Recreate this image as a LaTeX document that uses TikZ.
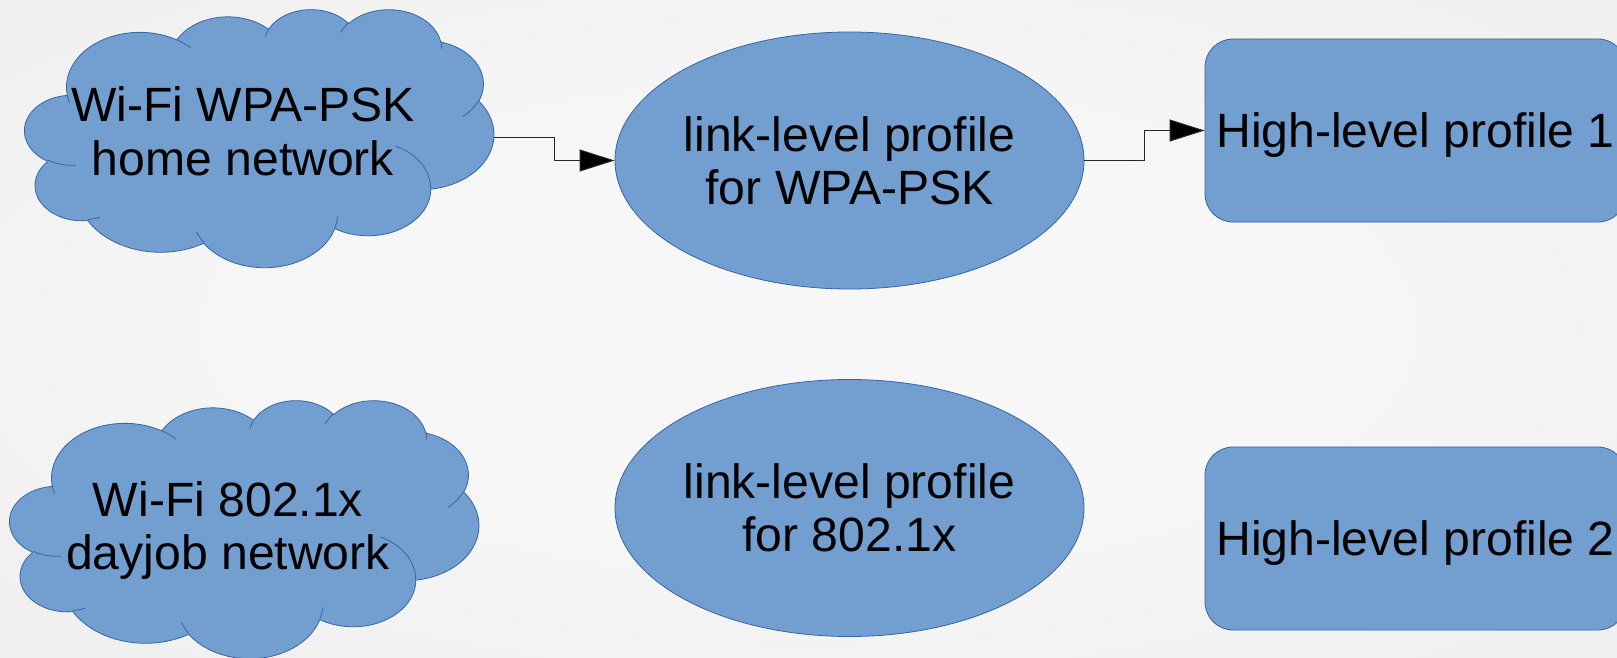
\documentclass[tikz,border=0pt]{standalone}
\usepackage{fontspec}
\setmainfont{Liberation Sans}
\usetikzlibrary{shapes.geometric,arrows.meta,calc}

\definecolor{shapefill}{HTML}{729FCF}
\definecolor{shapeline}{HTML}{3465A4}
\definecolor{bginner}{HTML}{F7F7F7}
\definecolor{bgouter}{HTML}{E9E9E9}
\pgfdeclareradialshading{slideglow}{\pgfpoint{0bp}{0bp}}{color(0bp)=(bginner); color(15bp)=(bginner); color(50bp)=(bgouter)}

% Elliptic arc given by its "visual" start angle and sweep (as in
% DrawingML): convert both to parametric angles before drawing.
\newcommand\cloudcalc[4]{%
  \pgfmathsetmacro\cloudtmpA{atan2((#1)*sin(#3),(#2)*cos(#3))}%
  \pgfmathsetmacro\cloudtmpB{atan2((#1)*sin((#3)+(#4)),(#2)*cos((#3)+(#4)))}%
  \pgfmathsetmacro\cloudtmpD{mod(\cloudtmpB-\cloudtmpA+720,360)}%
  \global\let\cloudA\cloudtmpA
  \global\let\cloudD\cloudtmpD}
\newcommand\cloudarc[4]{\pgfextra{\cloudcalc{#1}{#2}{#3}{#4}} arc[start angle=\cloudA, delta angle=\cloudD, x radius=#1, y radius=#2]}

% Cloud outline in a 432 x 432 frame, stretched to #2 x #3 at corner #1
\newcommand\drawcloud[3]{%
  \pgfmathsetmacro\cloudsx{#2/432}%
  \pgfmathsetmacro\cloudsy{#3/432}%
  \begin{scope}[shift={#1}, x=\cloudsx bp, y=-\cloudsy bp]
    \filldraw[fill=shapefill, draw=shapeline, line width=0.8bp, line join=round]
      (39.00,143.70)
      \cloudarc{67.53}{91.90}{-190.48748}{123.78053}
      \cloudarc{53.33}{72.67}{-144.10238}{89.94523}
      \cloudarc{43.65}{59.45}{-145.80792}{99.72302}
      \cloudarc{48.57}{65.95}{-130.98607}{117.24173}
      \cloudarc{53.33}{72.73}{-78.70888}{109.02692}
      \cloudarc{67.75}{92.20}{-46.26725}{130.26900}
      \cloudarc{57.85}{78.67}{0.62502}{114.03333}
      \cloudarc{67.52}{92.15}{22.45160}{115.17255}
      \cloudarc{77.20}{105.43}{66.24263}{75.71102}
      \cloudarc{43.60}{59.18}{-274.94208}{146.73557}
      \cloudarc{43.45}{59.45}{-246.82850}{152.51885}
      -- cycle;
    \draw[shapeline, line width=0.8bp]
      (46.93,261.77) \cloudarc{43.45}{59.45}{86.74200}{26.42950}
      (69.28,348.99) \cloudarc{43.60}{59.18}{73.61047}{11.44747}
      (164.78,390.90) \cloudarc{67.52}{92.15}{137.62415}{14.08110}
      (288.27,347.51) \cloudarc{67.52}{92.15}{6.45327}{15.99835}
      (341.29,229.54) \cloudarc{57.85}{78.67}{-70.29235}{70.91737}
      (417.98,153.54) \cloudarc{53.33}{72.73}{30.31803}{27.75150}
      (383.24,54.26) \cloudarc{48.57}{65.95}{-13.74433}{14.85890}
      (290.78,39.52) \cloudarc{48.57}{65.95}{-149.18145}{18.19537}
      (221.41,47.20) \cloudarc{43.65}{59.45}{-163.49427}{17.68635}
      (140.00,51.92) \cloudarc{67.53}{91.90}{-66.70695}{12.31935}
      (41.27,157.89) \cloudarc{67.53}{91.90}{157.65435}{11.85817};
  \end{scope}}

\begin{document}
\begin{tikzpicture}[x=1bp, y=-1bp,
  bigtext/.style={font=\fontsize{48.3}{53.5}\selectfont, align=center, inner sep=0pt},
  cloudframe/.style={rectangle, minimum width=469bp, minimum height=258bp, inner sep=0pt},
  profile/.style={ellipse, draw=shapeline, fill=shapefill, line width=0.8bp,
    minimum width=469bp, minimum height=257bp, bigtext},
  highlevel/.style={rectangle, rounded corners=28bp, draw=shapeline, fill=shapefill,
    line width=0.8bp, minimum width=421bp, minimum height=183bp, bigtext, text depth=0pt},
  link/.style={line width=1bp, black!85, -{Triangle[length=35bp, width=22bp, fill=black]}}]

  \useasboundingbox (0,0) rectangle (1617,658);
  \shade[shading=slideglow] (0,0) rectangle (1617,658);

  % networks
  \node[cloudframe] (home) at (259.5,138) {};
  \node[cloudframe] (dayjob) at (244.5,529) {};
  \drawcloud{(home.north west)}{469}{258}
  \drawcloud{(dayjob.north west)}{469}{258}
  \node[bigtext] (hometext) at (243,131.2) {Wi-Fi WPA-PSK\\home network};
  \node[bigtext] (jobtext) at (228,530.4) {Wi-Fi 802.1x\\dayjob network};

  % link-level profiles
  \node[profile] (pskprofile) at (849.5,160.5) {link-level profile\\for WPA-PSK};
  \node[profile] (dotxprofile) at (849.5,508) {link-level profile\\for 802.1x};

  % high-level profiles
  \node[highlevel] (hl1) at (1415.5,130.5) {High-level profile 1};
  \node[highlevel] (hl2) at (1415.5,538.5) {High-level profile 2};

  % connectors
  \draw[link] (home.east) -| ($(home.east)!.5!(pskprofile.west)$) |- (pskprofile.west);
  \draw[link] (pskprofile.east) -| ($(pskprofile.east)!.5!(hl1.west)$) |- (hl1.west);
\end{tikzpicture}
\end{document}
